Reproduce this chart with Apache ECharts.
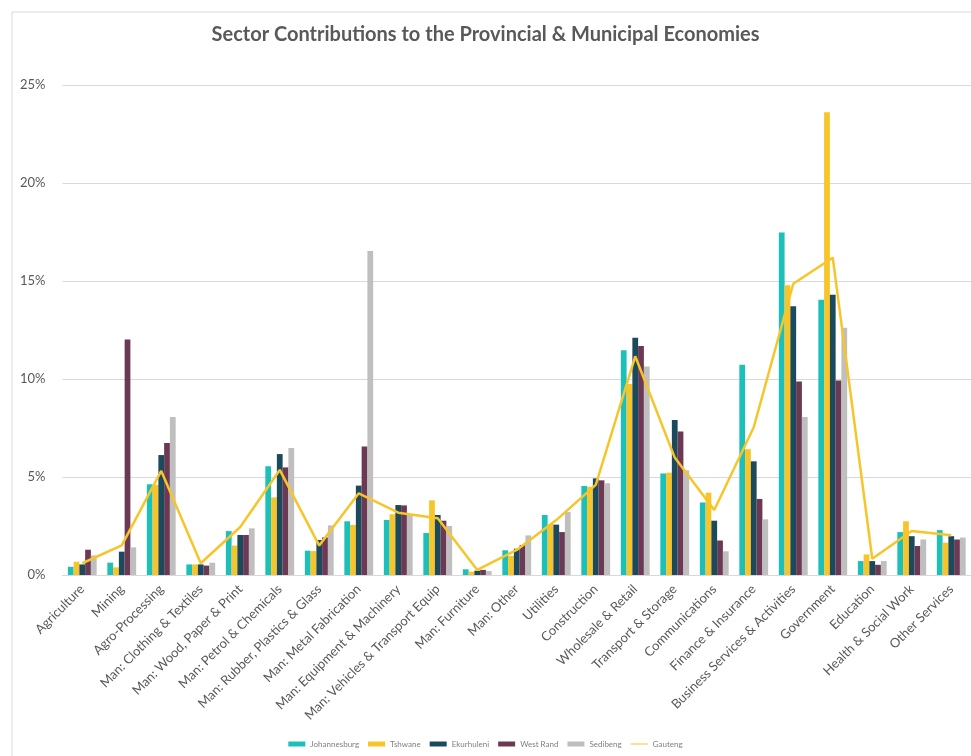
<!DOCTYPE html>
<html>
<head>
<meta charset="utf-8">
<script src="https://cdn.jsdelivr.net/npm/echarts@6/dist/echarts.min.js"></script>
<style>
html,body{margin:0;padding:0;background:#fff;}
#chart{width:971px;height:756px;}
</style>
</head>
<body>
<div id="chart"></div>
<script>
const categories = ["Agriculture","Mining","Agro-Processing","Man: Clothing & Textiles","Man: Wood, Paper & Print","Man: Petrol & Chemicals","Man: Rubber, Plastics & Glass","Man: Metal Fabrication","Man: Equipment & Machinery","Man: Vehicles & Transport Equip","Man: Furniture","Man: Other","Utilities","Construction","Wholesale & Retail","Transport & Storage","Communications","Finance & Insurance","Business Services & Activities","Government","Education","Health & Social Work","Other Services"];
const johannesburg = [0.42,0.63,4.63,0.54,2.24,5.55,1.24,2.74,2.81,2.14,0.29,1.26,3.06,4.54,11.47,5.18,3.70,10.73,17.48,14.04,0.71,2.19,2.29];
const tshwane      = [0.68,0.39,4.60,0.54,1.50,3.96,1.22,2.55,3.10,3.81,0.17,0.97,2.60,4.50,9.75,5.22,4.20,6.42,14.78,23.61,1.05,2.74,1.65];
const ekurhuleni   = [0.54,1.19,6.12,0.54,2.04,6.17,1.79,4.56,3.57,3.06,0.22,1.34,2.57,4.93,12.11,7.91,2.77,5.80,13.71,14.30,0.71,1.98,1.98];
const westRand     = [1.29,12.02,6.73,0.48,2.04,5.49,1.92,6.55,3.55,2.77,0.26,1.53,2.19,4.83,11.68,7.32,1.76,3.88,9.87,9.92,0.52,1.48,1.81];
const sedibeng     = [1.00,1.41,8.06,0.63,2.38,6.48,2.53,16.53,3.11,2.50,0.20,2.02,3.21,4.68,10.64,5.34,1.21,2.84,8.06,12.62,0.71,1.81,1.91];
const gauteng      = [0.60,1.51,5.31,0.60,2.45,5.36,1.50,4.17,3.18,2.89,0.26,1.28,2.80,4.60,11.16,5.99,3.32,7.54,14.86,16.19,0.83,2.24,2.03];
const yTicks = [0,5,10,15,20,25];

const seriesNames = ["Johannesburg","Tshwane","Ekurhuleni","West Rand","Sedibeng"];
const seriesData = [johannesburg,tshwane,ekurhuleni,westRand,sedibeng];
const colors = ["#1CC0B9","#F7C52A","#1B4A5C","#6B3954","#BFBFBF"];
const lineColor = "#F7C52A";
const font = "Lato, 'Open Sans', sans-serif";

const chart = echarts.init(document.getElementById('chart'), null, {renderer:'canvas'});
const series = seriesNames.map((n,i)=>({
  name:n, type:'bar', data:seriesData[i], itemStyle:{color:colors[i]},
  barGap:'0%', barCategoryGap:'27%', animation:false
}));
series.push({
  name:'Gauteng', type:'line', data:gauteng, showSymbol:false, symbol:'none',
  lineStyle:{color:lineColor,width:2.5}, itemStyle:{color:lineColor}, z:5, animation:false
});

chart.setOption({
  animation:false,
  graphic:[{type:'rect', shape:{x:12,y:12,width:1000,height:800}, style:{fill:'none',stroke:'#d9d9d9',lineWidth:1}, silent:true, z:-1}],
  title:{text:'Sector Contributions to the Provincial & Municipal Economies', left:'center', top:20,
    textStyle:{fontFamily:font, fontSize:20, fontWeight:'bold', color:'#595959'}},
  legend:{bottom:3, left:'center', itemWidth:17, itemHeight:5, itemGap:9,
    textStyle:{fontFamily:font, fontSize:8, color:'#7f7f7f'},
    data:[
      {name:'Johannesburg', icon:'rect'},{name:'Tshwane', icon:'rect'},{name:'Ekurhuleni', icon:'rect'},
      {name:'West Rand', icon:'rect'},{name:'Sedibeng', icon:'rect'},
      {name:'Gauteng', icon:'path://M0,2 L20,2 L20,3.2 L0,3.2 Z'}
    ]},
  grid:{left:62.5, top:85, width:918, height:490, containLabel:false},
  xAxis:{type:'category', data:categories,
    axisLine:{lineStyle:{color:'#d9d9d9'}}, axisTick:{show:false},
    axisLabel:{interval:0, rotate:45, margin:12, fontFamily:font, fontSize:13, color:'#595959'}},
  yAxis:{type:'value', min:yTicks[0], max:yTicks[yTicks.length-1], interval:5,
    axisLabel:{formatter:'{value}%', fontFamily:font, fontSize:13, color:'#595959', margin:17},
    axisLine:{show:false}, axisTick:{show:false},
    splitLine:{lineStyle:{color:'#d9d9d9'}}},
  series:series
});
</script>
</body>
</html>
